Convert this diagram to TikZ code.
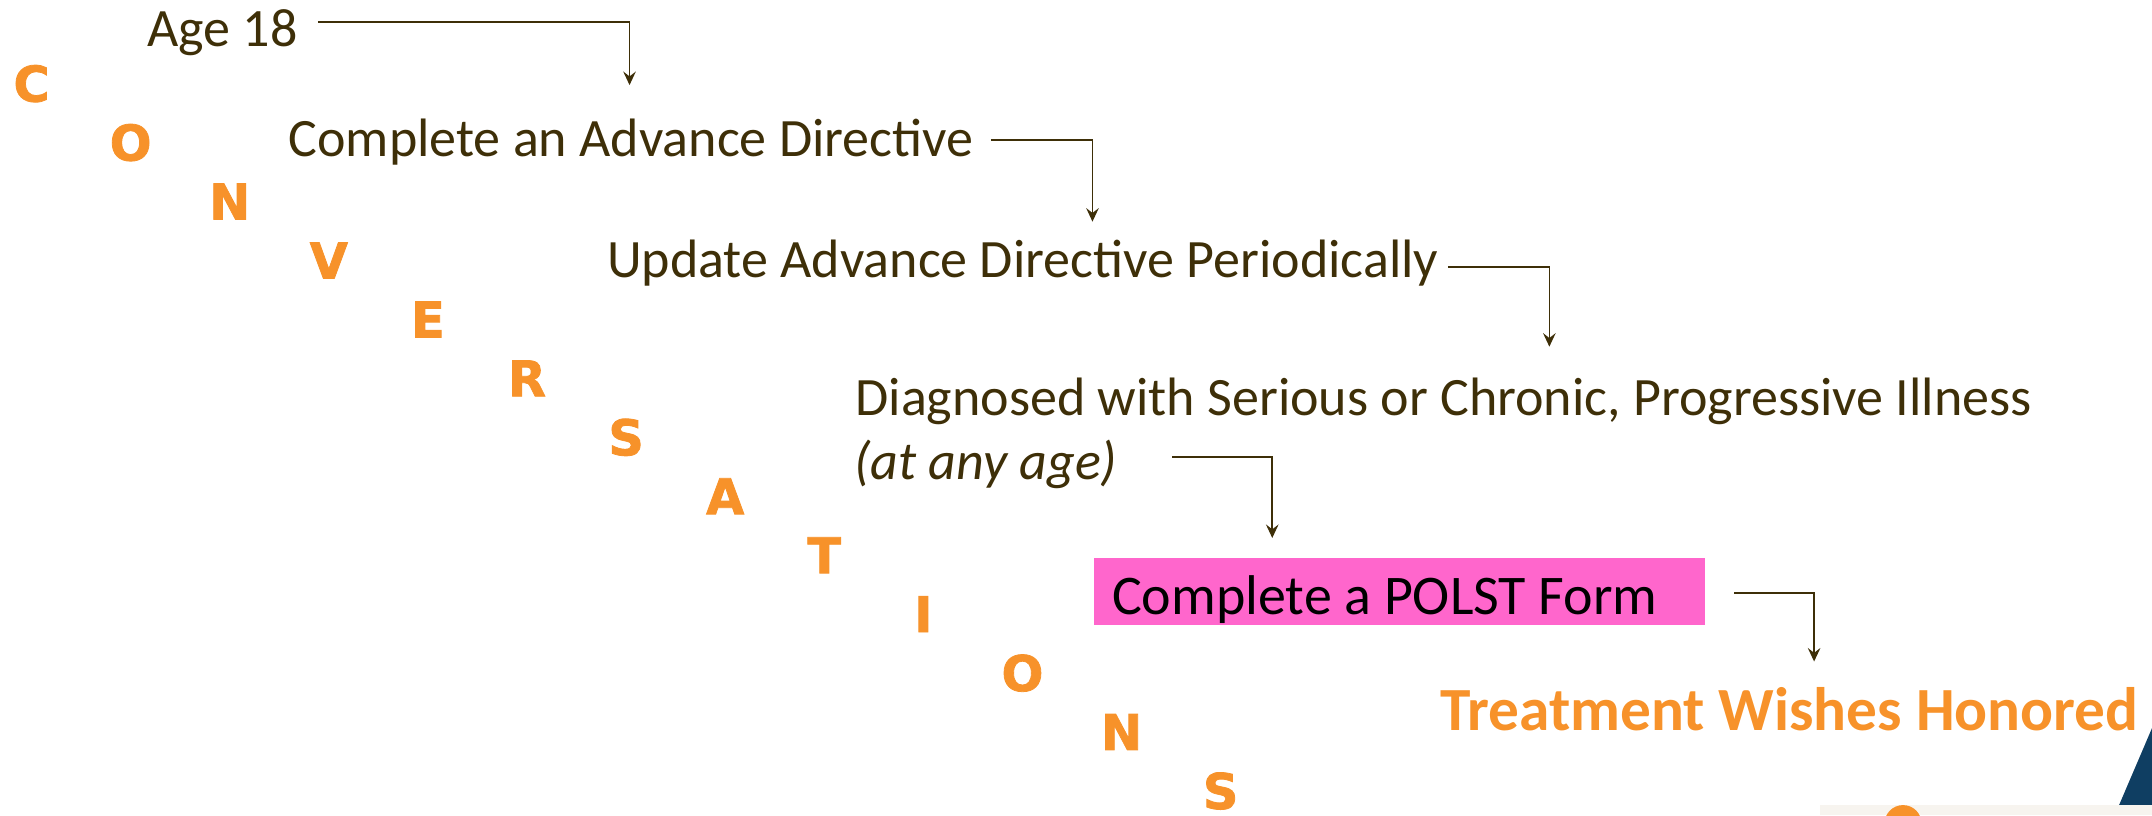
\documentclass[tikz,border=0pt]{standalone}
\usepackage{fontspec}
\setmainfont{Carlito}
\newfontfamily\lettersfont[FakeBold=1.6]{DejaVu Sans Bold}
\usetikzlibrary{arrows.meta}
\definecolor{inkbrown}{HTML}{3E2F08}
\definecolor{flame}{HTML}{F7922A}
\definecolor{polstpink}{HTML}{FF66CC}
\definecolor{navy}{HTML}{0F3E62}
\definecolor{paleband}{HTML}{F7F4EF}

\begin{document}
\begin{tikzpicture}[x=0.025cm,y=-0.025cm,
  stage/.style={anchor=base west, inner sep=0pt, text=inkbrown,
    font=\fontsize{28}{32}\selectfont},
  letter/.style={anchor=base, inner sep=0pt, text=flame,
    font=\lettersfont\bfseries\fontsize{25.5}{28}\selectfont},
  conn/.style={draw=inkbrown, line width=0.9pt,
    -{Stealth[length=7pt,width=6.5pt,inset=2.5pt]}},
]
\useasboundingbox (0,0) rectangle (1568,594);

% diagonal "CONVERSATIONS"
\foreach \ch [count=\i from 0] in {C,O,N,V,E,R,S,A,T,I,O,N,S}
  \node[letter] (L\i) at ({23+72.2*\i},{74+42.95*\i}) {\ch};

% stages
\node[stage] (age)  at (107,34)    {Age 18};
\node[stage] (cad)  at (210,114.2) {Complete an Advance Directive};
\node[stage] (upd)  at (442,202)   {Update Advance Directive Periodically};
\node[stage] (diag) at (623,302.4) {Diagnosed with Serious or Chronic, Progressive Illness};
\node[stage] (anyage) at (622,349.7) {\itshape (at any age)};

\node[fill=polstpink, anchor=north west, minimum width=316.9pt,
      minimum height=34.7pt, inner sep=0pt] (polstbox) at (796.5,406.6) {};
\node[stage, text=black, font=\fontsize{29}{33}\selectfont] (polst) at (810,448)
      {Complete a POLST Form};

\node[anchor=base east, inner sep=0pt, text=flame,
      font=\bfseries\fontsize{31.8}{36}\selectfont] (honored) at (1558.6,532)
      {Treatment Wishes Honored};

% elbow connectors
\coordinate (s1) at (231.6,15.8);  \coordinate (t1) at (458.7,62);
\coordinate (s2) at (722,102);     \coordinate (t2) at (796,161.5);
\coordinate (s3) at (1054.9,194.3);\coordinate (t3) at (1128.9,252.6);
\coordinate (s4) at (854,333);     \coordinate (t4) at (927,392);
\coordinate (s5) at (1263.5,431.9);\coordinate (t5) at (1321.8,482);
\draw[conn] (s1) -| (t1);
\draw[conn] (s2) -| (t2);
\draw[conn] (s3) -| (t3);
\draw[conn] (s4) -| (t4);
\draw[conn] (s5) -| (t5);

% corner decoration
\fill[navy] (1568,530.5) -- (1544,586.6) -- (1568,586.6) -- cycle;
\begin{scope}
  \clip (0,0) rectangle (1568,594);
  \fill[paleband] (1326,586.6) rectangle (1568,594);
  \fill[flame] (1386.6,600.1) circle [radius=13.5];
\end{scope}
\end{tikzpicture}
\end{document}
